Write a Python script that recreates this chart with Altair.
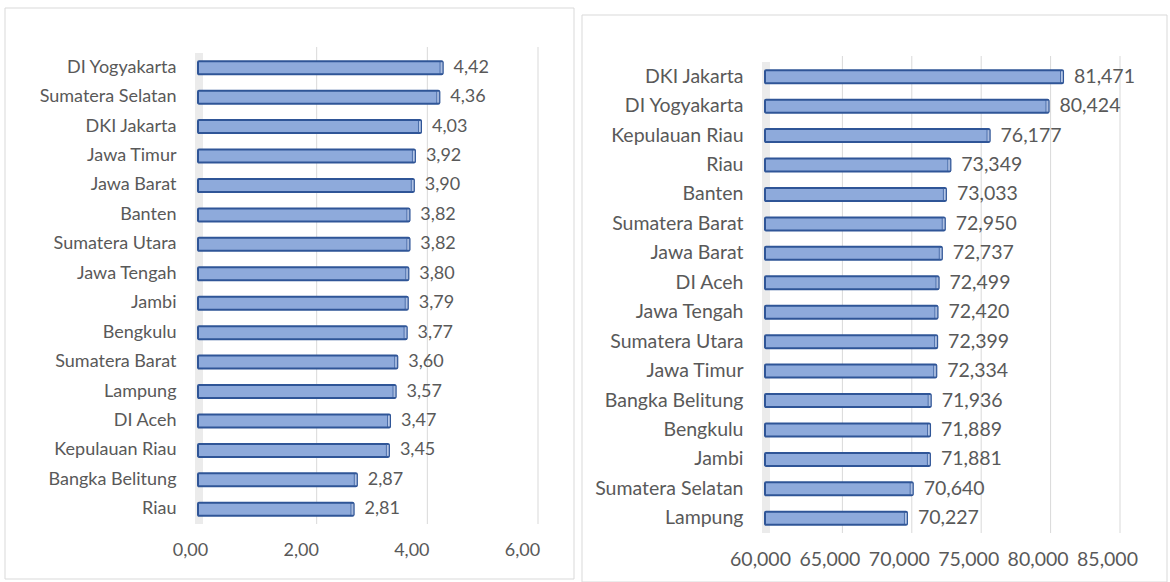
import altair as alt
import pandas as pd

left_regions = ["DI Yogyakarta", "Sumatera Selatan", "DKI Jakarta", "Jawa Timur", "Jawa Barat",
                "Banten", "Sumatera Utara", "Jawa Tengah", "Jambi", "Bengkulu", "Sumatera Barat",
                "Lampung", "DI Aceh", "Kepulauan Riau", "Bangka Belitung", "Riau"]
left_values = [4.42, 4.36, 4.03, 3.92, 3.90, 3.82, 3.82, 3.80, 3.79, 3.77, 3.60, 3.57, 3.47, 3.45, 2.87, 2.81]
left_ticks = [0, 2, 4, 6]

right_regions = ["DKI Jakarta", "DI Yogyakarta", "Kepulauan Riau", "Riau", "Banten", "Sumatera Barat",
                 "Jawa Barat", "DI Aceh", "Jawa Tengah", "Sumatera Utara", "Jawa Timur",
                 "Bangka Belitung", "Bengkulu", "Jambi", "Sumatera Selatan", "Lampung"]
right_values = [81471, 80424, 76177, 73349, 73033, 72950, 72737, 72499, 72420, 72399, 72334,
                71936, 71889, 71881, 70640, 70227]
right_ticks = [60000, 65000, 70000, 75000, 80000, 85000]

FONT = "Lato"
TXT = "#595959"
GRID = "#d9d9d9"
FILL = "#8eaadb"
EDGE = "#2f5597"

left_df = pd.DataFrame({"region": left_regions, "value": left_values,
                        "label": [f"{v:.2f}".replace(".", ",") for v in left_values]})
right_df = pd.DataFrame({"region": right_regions, "value": right_values,
                         "label": [f"{v:,}" for v in right_values]})


def panel(df, regions, ticks, domain, width, height, yrange, base, label_expr, box, xlabel_offset, fs):
    one = pd.DataFrame({"a": [0]})
    border = alt.Chart(one).mark_rect(fill="transparent", stroke=GRID, strokeWidth=1).encode(
        x=alt.value(box[0]), x2=alt.value(box[1]), y=alt.value(box[2]), y2=alt.value(box[3]))
    wall = alt.Chart(one).mark_rect(fill="#ebebeb").encode(
        x=alt.value(-3), x2=alt.value(5), y=alt.value(yrange[0]), y2=alt.value(yrange[1]))
    grid = alt.Chart(pd.DataFrame({"t": ticks[1:]})).mark_rule(color=GRID, strokeWidth=1, xOffset=8).encode(
        x=alt.X("t:Q", scale=alt.Scale(domain=domain, zero=False, nice=False)),
        y=alt.value(yrange[0] - 6), y2=alt.value(yrange[1]))
    ysc = alt.Y("region:N", sort=regions, title=None,
                scale=alt.Scale(range=yrange, paddingInner=0.55, paddingOuter=0.275),
                axis=alt.Axis(ticks=False, domain=False, labelPadding=22, labelFontSize=fs,
                              labelColor=TXT, labelFont=FONT, labelLimit=300))
    xsc = alt.X("value:Q", title=None, scale=alt.Scale(domain=domain, zero=False, nice=False),
                axis=alt.Axis(values=ticks, grid=False, ticks=False, domain=False, labelPadding=17,
                              labelFontSize=fs, labelColor=TXT, labelFont=FONT,
                              labelExpr=label_expr, labelFlush=False, labelOverlap=False,
                              labelOffset=xlabel_offset))
    bars = alt.Chart(df).mark_bar(fill=FILL, stroke=EDGE, strokeWidth=2, size=13,
                                  cornerRadius=1).encode(
        y=ysc, x=xsc, x2=alt.datum(base))
    cap = alt.Chart(df).mark_tick(color="#c9d6ef", stroke=EDGE, strokeWidth=1, thickness=3,
                                  size=12, xOffset=-1).encode(
        y=alt.Y("region:N", sort=regions), x=alt.X("value:Q"))
    text = alt.Chart(df).mark_text(align="left", baseline="middle", dx=11, fontSize=fs,
                                   color=TXT, font=FONT).encode(
        y=alt.Y("region:N", sort=regions), x=alt.X("value:Q"), text="label:N")
    return alt.layer(border, wall, grid, bars, cap, text).properties(width=width, height=height)


left = panel(left_df, left_regions, left_ticks, [0, 6], 332, 471, [0, 471], 0,
             "replace(format(datum.value, '.2f'), '.', ',')",
             (-193, 376, -45, 526), -8, 18)
right = panel(right_df, right_regions, right_ticks, [60000, 85000], 347, 480, [9, 480], 60000,
              "format(datum.value, ',')",
              (-183, 402, -38, 529), -5, 19.5)

chart = alt.hconcat(left, right, spacing=235, bounds="flush").properties(
    padding={"left": 4, "top": 7, "right": 2, "bottom": 0}
).configure_view(stroke=None).resolve_scale(y="independent", x="independent")

chart.save("out.html", embed_options={"renderer": "svg", "actions": False})
